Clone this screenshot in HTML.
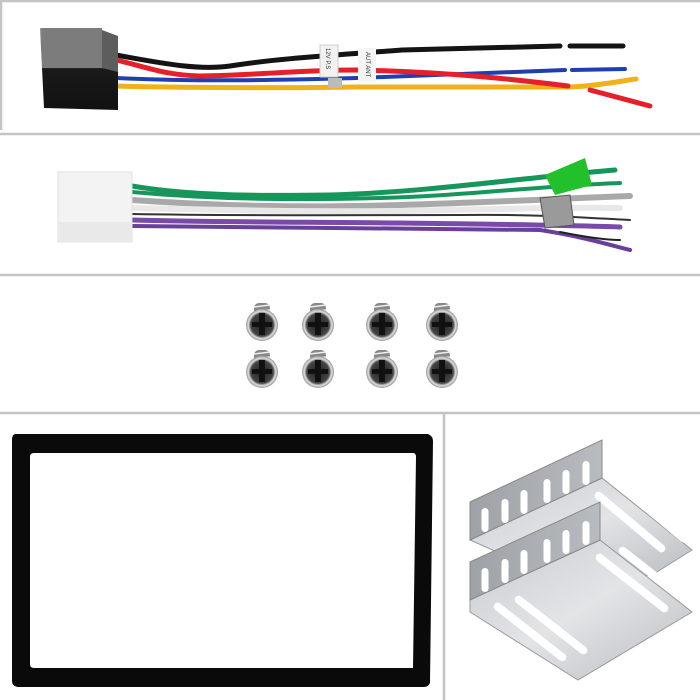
<!DOCTYPE html>
<html><head><meta charset="utf-8"><style>
html,body{margin:0;padding:0;background:#fff;}
svg{display:block;}
</style></head><body>
<svg width="700" height="700" viewBox="0 0 700 700" xmlns="http://www.w3.org/2000/svg">
<defs>
<linearGradient id="conn" x1="0" y1="0" x2="0" y2="1"><stop offset="0" stop-color="#8a8a8a"/><stop offset="0.45" stop-color="#6a6a6a"/><stop offset="0.5" stop-color="#1a1a1a"/><stop offset="1" stop-color="#111"/></linearGradient>
<radialGradient id="head" cx="0.5" cy="0.5" r="0.5"><stop offset="0" stop-color="#222"/><stop offset="0.7" stop-color="#444"/><stop offset="0.85" stop-color="#ddd"/><stop offset="1" stop-color="#999"/></radialGradient>
<linearGradient id="metal" x1="0" y1="0" x2="1" y2="1"><stop offset="0" stop-color="#c9ccd0"/><stop offset="0.5" stop-color="#e2e4e6"/><stop offset="1" stop-color="#b9bcc0"/></linearGradient>
<linearGradient id="metalv" x1="0" y1="0" x2="1" y2="0"><stop offset="0" stop-color="#9ea2a6"/><stop offset="1" stop-color="#b8bbbf"/></linearGradient>
<g id="s">
<rect x="-8" y="-22" width="16" height="14" rx="5" fill="#888"/>
<line x1="-8" y1="-18" x2="8" y2="-20" stroke="#eee" stroke-width="1.5"/>
<line x1="-8" y1="-13" x2="8" y2="-15" stroke="#eee" stroke-width="1.5"/>
<circle cx="0" cy="0" r="16" fill="url(#head)"/>
<rect x="-3" y="-12" width="6" height="22" fill="#111"/>
<rect x="-10" y="-3" width="20" height="5" fill="#111"/>
</g>
<rect id="vs" x="-3.5" y="-12" width="7" height="24" rx="3.5" fill="#fff"/>
<rect id="hs" x="-45" y="-4" width="90" height="8" rx="4" fill="#fff"/>
</defs>
<rect width="700" height="700" fill="#fff"/>
<g fill="none" stroke="#c4c4c4" stroke-width="2.5">
<line x1="0" y1="1" x2="700" y2="1"/>
<line x1="0" y1="134" x2="700" y2="134"/>
<line x1="0" y1="275" x2="700" y2="275"/>
<line x1="0" y1="413" x2="700" y2="413"/>
<line x1="444" y1="413" x2="444" y2="700"/>
<line x1="1" y1="0" x2="1" y2="130"/>
</g>
<g fill="none" stroke-linecap="round">
<path d="M116,55 C170,65 200,70 230,66 C280,58 340,55 402,50 L560,46" stroke="#141414" stroke-width="5"/>
<path d="M570,46 L623,46" stroke="#141414" stroke-width="5"/>
<path d="M116,78 C200,82 280,80 357,78 L565,70" stroke="#1f3fb0" stroke-width="4"/>
<path d="M572,70 L625,69" stroke="#1f3fb0" stroke-width="4"/>
<path d="M112,86 C200,88 300,88 357,87 L570,87 C595,86 615,82 636,79" stroke="#f0b21a" stroke-width="5"/>
<path d="M116,60 C150,68 165,75 200,76 C260,75 300,70 357,70 C450,72 520,80 568,86" stroke="#e5202a" stroke-width="5"/>
<path d="M590,90 L650,106" stroke="#e5202a" stroke-width="5"/>
</g>
<rect x="320" y="45" width="18" height="32" fill="#f2f2f2" stroke="#ccc"/>
<rect x="328" y="78" width="14" height="10" fill="#bbb"/>
<rect x="358" y="48" width="18" height="34" fill="#f5f5f5"/>
<text x="0" y="0" transform="translate(326,48) rotate(90)" font-family="Liberation Sans, sans-serif" font-size="6" fill="#333">12V P.S</text>
<text x="0" y="0" transform="translate(366,52) rotate(90)" font-family="Liberation Sans, sans-serif" font-size="6" fill="#333">AUT ANT</text>
<path d="M40,28 L118,36 L118,110 L44,108 Z" fill="url(#conn)"/>
<rect x="42" y="28" width="60" height="40" fill="#7c7c7c"/>
<path d="M102,30 L118,36 L118,72 L102,68 Z" fill="#5d5d5d"/>
<g fill="none" stroke-linecap="round">
<path d="M132,186 C190,196 260,196 330,195 C430,192 520,178 615,170" stroke="#16965a" stroke-width="5"/>
<path d="M132,192 C220,200 300,200 380,198 C460,196 540,186 620,183" stroke="#16965a" stroke-width="4"/>
<path d="M132,200 C220,206 300,208 400,205 C500,202 570,198 630,196" stroke="#a9a9a9" stroke-width="6"/>
<path d="M132,208 C220,210 300,212 400,211 C500,209 570,207 620,208" stroke="#e8e8e8" stroke-width="6"/>
<path d="M132,214 C240,216 380,215 460,215 C540,214 590,218 630,220" stroke="#333" stroke-width="2"/>
<path d="M132,220 C200,222 300,222 400,223 C480,224 560,225 620,227" stroke="#7a4aa8" stroke-width="5"/>
<path d="M132,226 C240,228 460,228 540,230 C580,236 610,245 630,250" stroke="#6a3f9c" stroke-width="4"/>
<path d="M560,232 C590,238 610,240 620,240" stroke="#222" stroke-width="2"/>
</g>
<polygon points="545,175 585,158 592,185 555,195" fill="#22c02a"/>
<polygon points="540,198 570,195 574,225 545,228" fill="#9a9a9a" stroke="#555"/>
<rect x="58" y="172" width="74" height="70" fill="#f3f3f3" stroke="#e0e0e0"/>
<rect x="58" y="222" width="74" height="20" fill="#e9e9e9"/>
<use href="#s" x="262" y="325"/><use href="#s" x="318" y="325"/><use href="#s" x="382" y="325"/><use href="#s" x="442" y="325"/>
<use href="#s" x="262" y="372"/><use href="#s" x="318" y="372"/><use href="#s" x="382" y="372"/><use href="#s" x="442" y="372"/>
<path fill-rule="evenodd" fill="#0a0a0a" d="M16,434 L428,434 Q433,436 433,441 L430,683 Q428,687 424,687 L18,687 Q12,686 12,681 L12,440 Q12,434 16,434 Z M34,453 L413,453 Q416,453 416,457 L413,668 L34,668 Q30,668 30,664 L30,457 Q30,453 34,453 Z"/>
<polygon points="470,540 602,478 692,550 652,575 560,580" fill="url(#metal)" stroke="#999"/>
<use href="#hs" transform="translate(630,522) rotate(40)"/>
<use href="#hs" transform="translate(652,512) rotate(40)"/>
<polygon points="470,502 602,440 602,478 470,540" fill="url(#metalv)" stroke="#888"/>
<polygon points="470,600 600,540 692,612 578,680 470,612" fill="url(#metal)" stroke="#999"/>
<polygon points="470,562 600,502 600,540 470,600" fill="url(#metalv)" stroke="#888"/>
<use href="#hs" transform="translate(530,632) rotate(38)"/>
<use href="#hs" transform="translate(551,625) rotate(38)"/>
<use href="#hs" transform="translate(632,583) rotate(38)"/>
<use href="#hs" transform="translate(655,576) rotate(38)"/>
<use href="#vs" x="485" y="520"/><use href="#vs" x="505" y="511"/><use href="#vs" x="524" y="502"/><use href="#vs" x="547" y="491"/><use href="#vs" x="566" y="482"/><use href="#vs" x="586" y="473"/>
<use href="#vs" x="485" y="580"/><use href="#vs" x="505" y="571"/><use href="#vs" x="524" y="562"/><use href="#vs" x="547" y="551"/><use href="#vs" x="566" y="542"/><use href="#vs" x="586" y="533"/>
</svg>
</body></html>
